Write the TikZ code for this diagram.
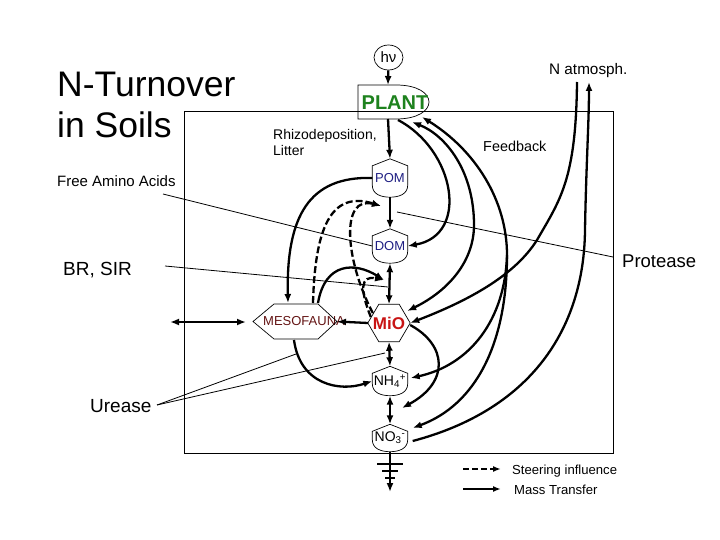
\documentclass[tikz,border=0pt]{standalone}
\usepackage{fontspec}
\setmainfont{Liberation Sans}
\usetikzlibrary{arrows.meta,calc,shapes.geometric}
\definecolor{plantgreen}{RGB}{30,130,30}
\definecolor{pomblue}{RGB}{30,30,130}
\definecolor{miored}{RGB}{200,20,20}
\definecolor{mesored}{RGB}{100,20,20}
\begin{document}
\begin{tikzpicture}[x=1pt,y=-1pt,
  flow/.style={line width=2.3pt,-{Latex[length=9pt,width=7pt]}},
  flowboth/.style={line width=2.3pt,{Latex[length=9pt,width=7pt]}-{Latex[length=9pt,width=7pt]}},
  steer/.style={flow,dash pattern=on 7pt off 3pt},
  outline/.style={line width=0.7pt},
  pointer/.style={line width=0.8pt},
  shieldnode/.style={inner sep=0pt,minimum width=35pt,font=\fontsize{13}{15}\selectfont,text=pomblue},
  lbl/.style={inner sep=0pt,anchor=base west}]
\useasboundingbox (0,0) rectangle (720,540);

% frame
\draw[line width=0.9pt] (184,111) rectangle (613,453);

% titles and labels
\node[lbl,font=\fontsize{35.5}{40}\selectfont] (t1) at (57,97) {N-Turnover};
\node[lbl,font=\fontsize{35.5}{40}\selectfont] (t2) at (57,138) {in Soils};
\node[lbl,font=\fontsize{15}{18}\selectfont] (faa) at (57,187) {Free Amino Acids};
\node[lbl,font=\fontsize{19}{21}\selectfont] (br) at (63,275) {BR, SIR};
\node[lbl,font=\fontsize{19}{21}\selectfont] (ure) at (90,412) {Urease};
\node[lbl,font=\fontsize{18.5}{20}\selectfont] (pro) at (622,267) {Protease};
\node[lbl,font=\fontsize{14}{15}\selectfont] (rh1) at (273,140) {Rhizodeposition,};
\node[lbl,font=\fontsize{14}{15}\selectfont] (rh2) at (273,156) {Litter};
\node[lbl,font=\fontsize{14.4}{15}\selectfont] (fb) at (483,152) {Feedback};
\node[lbl,font=\fontsize{15.3}{16}\selectfont] (natm) at (549,75) {N atmosph.};
\node[lbl,font=\fontsize{13.1}{14}\selectfont] (l1) at (512,474) {Steering influence};
\node[lbl,font=\fontsize{13.1}{14}\selectfont] (l2) at (514,494) {Mass Transfer};

% hv and plant
\node[ellipse,draw,outline,minimum width=29pt,minimum height=25pt,inner sep=0pt,font=\fontsize{15}{16}\selectfont] (hv) at (388.5,57.5) {hν};
\draw[outline] (358,85) -- (396,85) .. controls (440,85) and (440,119) .. (396,119) -- (358,119) -- cycle;
\node[inner sep=0pt,font=\bfseries\fontsize{20}{22}\selectfont,text=plantgreen] (plant) at (395,103) {PLANT};
\coordinate (plantTop) at (388,85);
\coordinate (plantBot) at (388,119);

% shield nodes
\newcommand{\shieldoutline}[1]{%
  \draw[outline] ($(#1.north west)+(0,7)$) -- (#1.north) -- ($(#1.north east)+(0,7)$) -- ($(#1.south east)+(0,-12)$) .. controls ($(#1.south east)+(0,-3)$) and ($(#1.south)+(9,0)$) .. (#1.south) .. controls ($(#1.south)+(-9,0)$) and ($(#1.south west)+(0,-3)$) .. ($(#1.south west)+(0,-12)$) -- cycle;}
\node[shieldnode,minimum height=38pt] (pom) at (390,178) {POM};
\node[shieldnode,minimum height=34pt] (dom) at (390,246) {DOM};
\node[shieldnode,minimum height=29pt,text=black,font=\fontsize{14}{15}\selectfont] (nh4) at (390,381) {NH\textsubscript{4}\textsuperscript{+}};
\node[shieldnode,minimum height=27pt,text=black,font=\fontsize{14}{15}\selectfont] (no3) at (390,438) {NO\textsubscript{3}\textsuperscript{-}};
\shieldoutline{pom}
\shieldoutline{dom}
\shieldoutline{nh4}
\shieldoutline{no3}

% hexagons
\node[inner sep=0pt,minimum width=42pt,minimum height=37pt,font=\bfseries\fontsize{17}{19}\selectfont,text=miored] (mio) at (389,323) {MiO};
\draw[outline] (mio.west) -- ($(mio.north west)+(11,0)$) -- ($(mio.north east)+(-11,0)$) -- (mio.east) -- ($(mio.south east)+(-11,0)$) -- ($(mio.south west)+(11,0)$) -- cycle;
\node[inner sep=0pt,font=\fontsize{13}{15}\selectfont,text=mesored] (meso) at (304,321) {MESOFAUNA};
\draw[outline] (253,321.5) -- (274,304) -- (318,304) -- (337,321.5) -- (318,339) -- (274,339) -- cycle;
\coordinate (mesoW) at (253,321.5);
\coordinate (mesoE) at (337,321.5);

% main chain
\draw[flow] (hv) -- (plantTop);
\draw[flow] (plantBot) -- (pom.north);
\draw[flow] (pom.south) -- (dom.north);
\draw[flowboth] (dom.south) -- (mio.north);
\draw[flowboth] (mio.south) -- (nh4.north);
\draw[flowboth] (nh4.south) -- (no3.north);
% leaching with ground
\coordinate (leach) at (390,492);
\draw[flow] (no3.south) -- (leach);
\draw[line width=1.6pt] (377,464) -- (403,464) (382,471) -- (398,471) (385,478) -- (395,478);

% mesofauna exchange
\draw[flow] (mio.west) -- (mesoE);
\coordinate (exL) at (170,322);
\coordinate (exR) at (246,322);
\draw[flowboth] (exL) -- (exR);

% pointer lines
\coordinate (faaP) at (163,194);
\coordinate (brP) at (165,266);
\coordinate (proP) at (613,257);
\coordinate (ureP) at (157,405);
\coordinate (pdArrow) at (397,212);
\coordinate (dmArrow) at (388,287);
\coordinate (mnArrow) at (385,353);
\coordinate (mesoLoop) at (296,354);
\draw[pointer] (faaP) -- (dom.west);
\draw[pointer] (brP) -- (dmArrow);
\draw[pointer] (proP) -- (pdArrow);
\draw[pointer] (ureP) -- (mesoLoop);
\draw[pointer] (ureP) -- (mnArrow);

% left curves
\coordinate (mesoTop1) at (288,303);
\coordinate (mesoTop2) at (313,303);
\coordinate (mesoTop3) at (318,303);
\coordinate (pdHead) at (381,206);
\coordinate (dmHead) at (384,280);
\draw[flow] (pom.west) .. controls (310,176) and (286,215) .. (mesoTop1);
\draw[steer] (mesoTop2) .. controls (315,230) and (330,190) .. (pdHead);
\draw[steer] ($(mio.west)+(5,-10)$) .. controls (345,260) and (340,195) .. (pdHead);
\draw[flow] (mesoTop3) .. controls (325,262) and (355,262) .. (dmHead);
\draw[steer] ($(mio.west)+(3,-6)$) .. controls (360,290) and (360,275) .. (dmHead);
\draw[flow] (294,340) .. controls (300,385) and (340,392) .. (nh4.west);

% right curves
\coordinate (plantA) at (412,122);
\coordinate (plantB) at (422,117);
\coordinate (plantC) at (398,120);
\coordinate (natmL) at (577,82);
\coordinate (natmR) at (589,82);
\coordinate (bendA) at (474,225);
\coordinate (bendB) at (507,255);
\coordinate (bendC) at (537,240);
\draw[flow] (plantC) .. controls (455,150) and (470,235) .. (dom.east);
\draw[flowboth] ($(mio.east)+(-3,-12)$) .. controls (450,290) and (474,260) .. (bendA) .. controls (474,170) and (445,135) .. (plantA);
\draw[flowboth] ($(no3.east)+(5,-10)$) .. controls (475,405) and (507,345) .. (bendB) .. controls (507,200) and (475,150) .. (plantB);
\draw[flow] (bendB) .. controls (505,320) and (470,365) .. ($(nh4.east)+(3,-3)$);
\draw[flow] (natmL) .. controls (576,180) and (560,200) .. (bendC) .. controls (515,275) and (470,300) .. (mio.east);
\draw[flow] ($(no3.east)+(5,3)$) .. controls (530,410) and (584,330) .. (585,230) .. controls (586,170) and (589,120) .. (natmR);
\draw[flow] ($(mio.east)+(0,2)$) .. controls (447,345) and (450,382) .. (402,408);

% legend
\coordinate (lg1a) at (463,469);
\coordinate (lg1b) at (501,469);
\coordinate (lg2a) at (463,489);
\coordinate (lg2b) at (501,489);
\draw[line width=2pt,dash pattern=on 6pt off 3pt,-{Latex[length=8pt,width=6pt]}] (lg1a) -- (lg1b);
\draw[line width=2pt,-{Latex[length=8pt,width=6pt]}] (lg2a) -- (lg2b);
\end{tikzpicture}
\end{document}
